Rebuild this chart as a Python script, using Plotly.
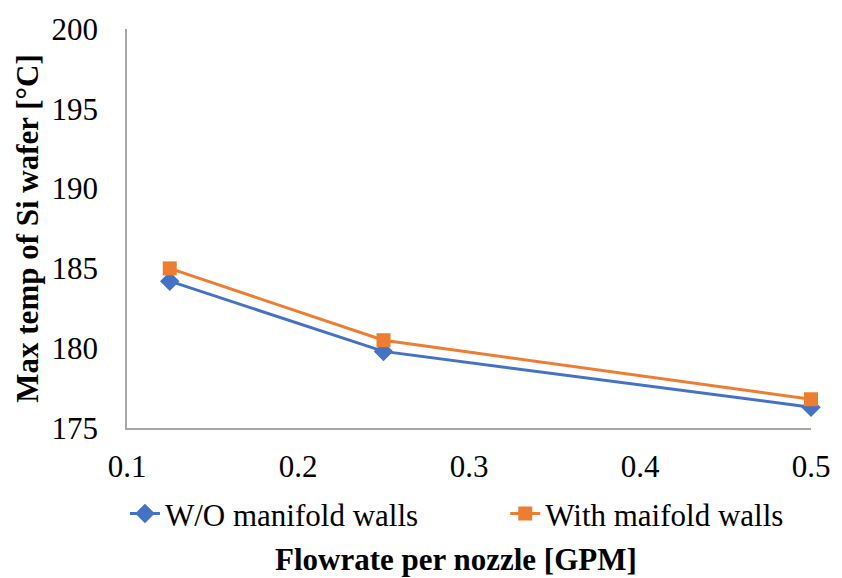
import plotly.graph_objects as go

# Flow rate per nozzle [GPM]
flowrate = [0.125, 0.25, 0.5]
# Maximum silicon wafer temperature [°C]
temp_without_walls = [184.2, 179.8, 176.3]
temp_with_walls = [185.0, 180.5, 176.8]

series_names = ["W/O manifold walls", "With maifold walls"]
x_ticks = [0.1, 0.2, 0.3, 0.4, 0.5]
y_ticks = [175, 180, 185, 190, 195, 200]

FONT = "Liberation Serif"
BLUE = "#4472C4"
ORANGE = "#ED7D31"

fig = go.Figure()
fig.add_trace(go.Scatter(
    x=flowrate, y=temp_without_walls, name=series_names[0],
    mode="lines+markers", cliponaxis=False, legend="legend",
    line=dict(color=BLUE, width=3),
    marker=dict(symbol="diamond", size=15, color=BLUE),
))
fig.add_trace(go.Scatter(
    x=flowrate, y=temp_with_walls, name=series_names[1],
    mode="lines+markers", cliponaxis=False, legend="legend2",
    line=dict(color=ORANGE, width=3),
    marker=dict(symbol="square", size=14, color=ORANGE),
))

legend_style = dict(
    orientation="h", xanchor="left", y=-0.215, yanchor="middle",
    font=dict(family=FONT, size=31, color="#000000"),
    bgcolor="rgba(0,0,0,0)",
)

fig.update_layout(
    width=842, height=578,
    margin=dict(l=127, r=23, t=22, b=150),
    paper_bgcolor="white", plot_bgcolor="white",
    font=dict(family=FONT, size=31, color="#000000"),
    showlegend=True,
    legend=dict(x=-0.003, **legend_style),
    legend2=dict(x=0.553, **legend_style),
    xaxis=dict(
        range=[0.1, 0.5], tickvals=x_ticks, ticktext=[f"{v:g}" for v in x_ticks],
        showgrid=False, zeroline=False,
        showline=True, linecolor="#A6A6A6", linewidth=1.5,
        ticks="", ticklabelstandoff=10,
        tickfont=dict(family=FONT, size=31),
    ),
    yaxis=dict(
        range=[175, 200], tickvals=y_ticks,
        showgrid=False, zeroline=False,
        showline=True, linecolor="#A6A6A6", linewidth=1.5,
        ticks="", ticklabelstandoff=21,
        tickfont=dict(family=FONT, size=31),
        title=dict(text="<b>Max temp of Si wafer [°C]</b>",
                   font=dict(family=FONT, size=31), standoff=4),
    ),
    annotations=[dict(
        text="<b>Flowrate per nozzle [GPM]</b>",
        xref="paper", yref="paper", x=0.481, y=-0.33,
        xanchor="center", yanchor="middle", showarrow=False,
        font=dict(family=FONT, size=31, color="#000000"),
    )],
)

fig.write_html("out.html")
